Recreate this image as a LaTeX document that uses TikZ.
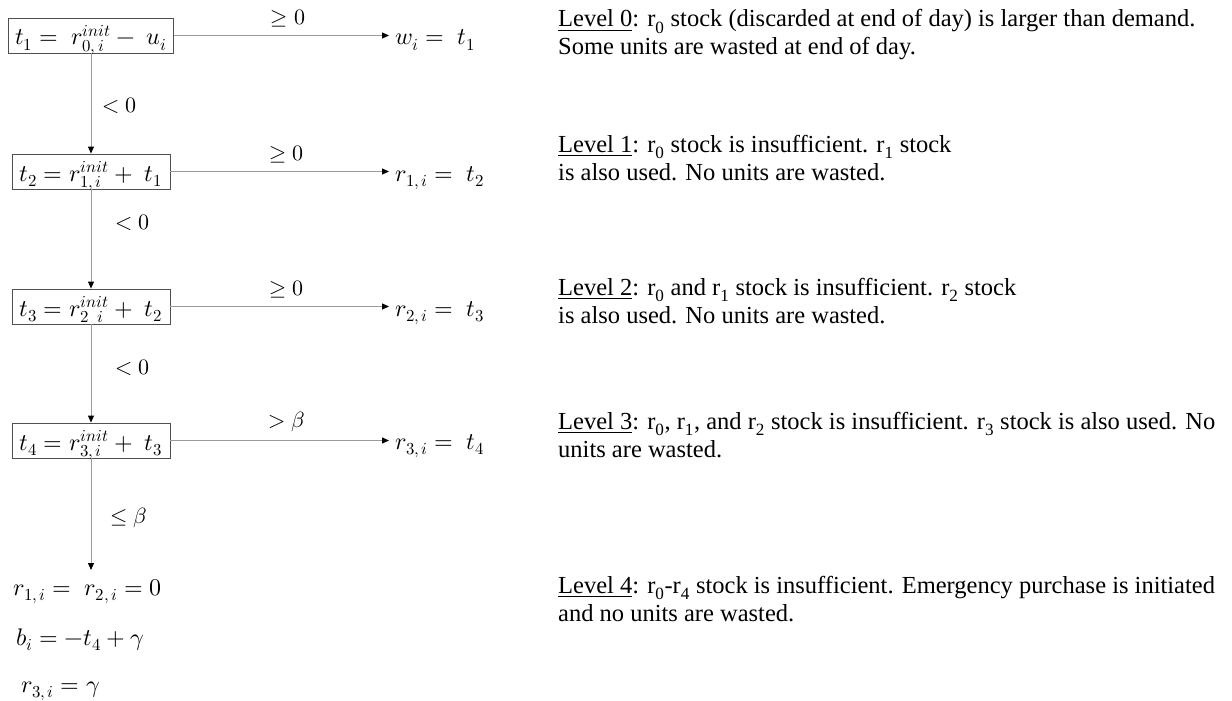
\documentclass[tikz,border=0pt]{standalone}
\usepackage{fontspec}
\usepackage{unicode-math}
\setmathfont{Latin Modern Math}
\newfontfamily\tnr{Liberation Serif}
\usetikzlibrary{arrows.meta}
\definecolor{linegray}{HTML}{9A9A9A}
\definecolor{boxgray}{HTML}{505050}
\begin{document}
\begin{tikzpicture}[x=1pt,y=-1pt,
  eqbox/.style={draw=boxgray, line width=0.9pt, inner xsep=2pt, inner ysep=0pt,
    text height=27pt, text depth=8pt, anchor=base, font=\fontsize{24}{28}\selectfont},
  res/.style={anchor=base west, inner xsep=6pt, inner ysep=0pt, font=\fontsize{24}{28}\selectfont},
  fin/.style={anchor=base west, inner sep=0pt, font=\fontsize{24}{28}\selectfont},
  conn/.style={draw=linegray, line width=0.9pt, -{Triangle[length=7pt,width=6pt,color=black]}},
  lbl/.style={inner sep=0pt, font=\fontsize{22}{26}\selectfont},
  desc/.style={anchor=base west, inner sep=0pt, font=\tnr\fontsize{24.5}{28}\selectfont}]
\useasboundingbox (0,0) rectangle (1232,701);

% boxes
\node[eqbox, minimum width=165pt] (b1) at (91,45) {$t_1 =\; r_{0,\,i}^{init} -\; u_i$};
\node[eqbox, minimum width=158pt] (b2) at (91,181) {$t_2 = r_{1,\,i}^{init} +\; t_1$};
\node[eqbox, minimum width=158pt] (b3) at (91,316) {$t_3 = r_{2\;\;i}^{init} +\; t_2$};
\node[eqbox, minimum width=158pt] (b4) at (91,450) {$t_4 = r_{3,\,i}^{init} +\; t_3$};

% results
\node[res] (w1) at (389,45) {$w_i =\; t_1$};
\node[res] (w2) at (389,181) {$r_{1,\,i} =\; t_2$};
\node[res] (w3) at (389,316) {$r_{2,\,i} =\; t_3$};
\node[res] (w4) at (389,449) {$r_{3,\,i} =\; t_4$};

% final
\coordinate (endtip) at (91,570);
\node[fin] (f1) at (13,595) {$r_{1,\,i} =\; r_{2,\,i} = 0$};
\node[fin] (f2) at (16,645) {$b_i = -t_4 + \gamma$};
\node[fin] (f3) at (21,692) {$r_{3,\,i} = \gamma$};

% horizontal connectors
\draw[conn] (b1.east) -- (b1.east -| w1.west) node[lbl, pos=0.53, above=8pt] {$\geq 0$};
\draw[conn] (b2.east) -- (b2.east -| w2.west) node[lbl, pos=0.53, above=8pt] {$\geq 0$};
\draw[conn] (b3.east) -- (b3.east -| w3.west) node[lbl, pos=0.53, above=8pt] {$\geq 0$};
\draw[conn] (b4.east) -- (b4.east -| w4.west) node[lbl, pos=0.53, above=8pt] {$> \beta$};

% vertical connectors
\draw[conn] (b1.south) -- (b1.south |- b2.north) node[lbl, pos=0.52, right=11pt] {$< 0$};
\draw[conn] (b2.south) -- (b2.south |- b3.north) node[lbl, pos=0.34, right=24pt] {$< 0$};
\draw[conn] (b3.south) -- (b3.south |- b4.north) node[lbl, pos=0.44, right=24pt] {$< 0$};
\draw[conn] (b4.south) -- (b4.south |- endtip) node[lbl, pos=0.53, right=19pt] {$\leq \beta$};

% descriptions
\node[desc] (l0a) at (558,27) {\underline{Level 0}: r\textsubscript{0} stock (discarded at end of day) is larger than demand.};
\node[desc] (l0b) at (558,55) {Some units are wasted at end of day.};
\node[desc] (l1a) at (558,152) {\underline{Level 1}: r\textsubscript{0} stock is insufficient. r\textsubscript{1} stock};
\node[desc] (l1b) at (558,180) {is also used. No units are wasted.};
\node[desc] (l2a) at (558,295) {\underline{Level 2}: r\textsubscript{0} and r\textsubscript{1} stock is insufficient. r\textsubscript{2} stock};
\node[desc] (l2b) at (558,323) {is also used. No units are wasted.};
\node[desc] (l3a) at (558,429) {\underline{Level 3}: r\textsubscript{0}, r\textsubscript{1}, and r\textsubscript{2} stock is insufficient. r\textsubscript{3} stock is also used. No};
\node[desc] (l3b) at (558,457) {units are wasted.};
\node[desc] (l4a) at (558,593) {\underline{Level 4}: r\textsubscript{0}-r\textsubscript{4} stock is insufficient. Emergency purchase is initiated};
\node[desc] (l4b) at (558,621) {and no units are wasted.};
\end{tikzpicture}
\end{document}
